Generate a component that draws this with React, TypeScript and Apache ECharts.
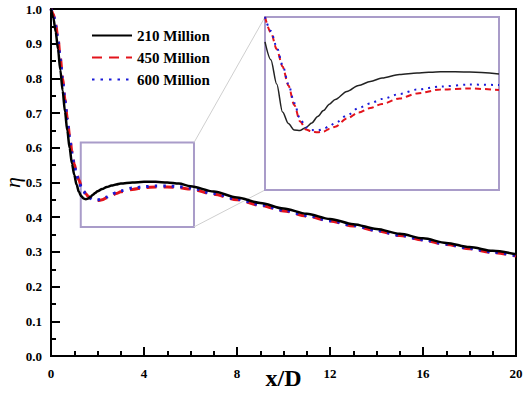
import React, { useEffect, useRef } from "react";
import * as echarts from "echarts";

// ---- main chart data (x/D, eta) ----
const mainX = [0, 0.1, 0.2, 0.3, 0.4, 0.5, 0.6, 0.7, 0.8, 0.9, 1.0, 1.1, 1.2, 1.3, 1.4, 1.5, 1.6, 1.7, 1.8, 1.9, 2.0,
  2.2, 2.4, 2.6, 2.8, 3.0, 3.5, 4.0, 4.5, 5.0, 5.5, 6, 7, 8, 9, 10, 11, 12, 13, 14, 15, 16, 17, 18, 19, 20];
const black210 = [1.0, 0.975, 0.935, 0.885, 0.825, 0.765, 0.705, 0.65, 0.6, 0.555, 0.522, 0.494, 0.473, 0.461, 0.454, 0.452, 0.454, 0.459, 0.465, 0.47, 0.475,
  0.481, 0.487, 0.491, 0.494, 0.497, 0.5, 0.502, 0.502, 0.5, 0.497,
  0.489, 0.474, 0.457, 0.441, 0.425, 0.41, 0.395, 0.38, 0.366, 0.352, 0.339, 0.326, 0.314, 0.303, 0.293];
const red450 = [1.0, 0.985, 0.955, 0.915, 0.86, 0.8, 0.74, 0.685, 0.635, 0.59, 0.553, 0.527, 0.507, 0.49, 0.477, 0.467, 0.46, 0.455, 0.451, 0.449, 0.448,
  0.45, 0.456, 0.462, 0.468, 0.473, 0.48, 0.485, 0.487, 0.487, 0.485,
  0.481, 0.466, 0.45, 0.434, 0.418, 0.403, 0.389, 0.375, 0.361, 0.347, 0.334, 0.321, 0.309, 0.298, 0.288];
const blue600 = [1.0, 0.984, 0.952, 0.91, 0.855, 0.795, 0.735, 0.68, 0.63, 0.585, 0.548, 0.522, 0.503, 0.487, 0.475, 0.466, 0.459, 0.454, 0.451, 0.45, 0.45,
  0.452, 0.458, 0.465, 0.471, 0.476, 0.484, 0.488, 0.49, 0.49, 0.488,
  0.484, 0.468, 0.452, 0.436, 0.42, 0.405, 0.39, 0.376, 0.362, 0.348, 0.335, 0.322, 0.31, 0.299, 0.289];

// ---- inset (zoomed) data ----
const insetX = [1.0, 1.1, 1.2, 1.3, 1.4, 1.5, 1.6, 1.7, 1.8, 1.9, 2.0, 2.1, 2.2, 2.4, 2.6, 2.8, 3.0, 3.3, 3.6, 4.0, 4.5, 5.0];
const insetBlack = [0.517, 0.503, 0.484, 0.462, 0.453, 0.448, 0.4476, 0.45, 0.4535, 0.4585, 0.4632, 0.4682, 0.4719, 0.4782, 0.4829, 0.486, 0.4887, 0.4915, 0.4926, 0.4937, 0.4934, 0.4919];
const insetRed = [0.5365, 0.5244, 0.5114, 0.4977, 0.4829, 0.4676, 0.4547, 0.4484, 0.4468, 0.4462, 0.4468, 0.4488, 0.4506, 0.457, 0.4617, 0.4652, 0.4684, 0.4727, 0.4766, 0.4797, 0.4805, 0.4793];
const insetBlue = [0.5365, 0.5255, 0.513, 0.4989, 0.484, 0.4692, 0.4566, 0.45, 0.448, 0.4476, 0.4488, 0.4511, 0.4535, 0.4594, 0.4652, 0.4688, 0.4723, 0.4762, 0.4797, 0.4821, 0.4836, 0.4832];
const insetYTicks = [0.43, 0.46, 0.49, 0.52];

const seriesNames = ["210 Million", "450 Million", "600 Million"];
// zoom box drawn on main chart (x range, y range)
const zoomBoxX = [1.28, 6.15];
const zoomBoxY = [0.372, 0.615];

const FONT = "Liberation Serif";
const LAV = "#a99cc9";

const pairs = (xs: number[], ys: number[]) => xs.map((x, i) => [x, ys[i]]);

export default function App() {
  const ref = useRef<HTMLDivElement>(null);
  useEffect(() => {
    document.body.style.margin = "0";
    const chart = echarts.init(ref.current!, null, { renderer: "svg" });
    const lineBase = { type: "line" as const, symbol: "none", showSymbol: false, smooth: 0.3, smoothMonotone: "x" as const };
    const option: any = {
      animation: false,
      backgroundColor: "#fff",
      grid: [
        { left: 51, top: 9, width: 465, height: 347, show: true, borderColor: "#000", borderWidth: 2, backgroundColor: "transparent", containLabel: false, outerBoundsMode: "none" },
        { left: 265, top: 17, width: 234, height: 173, show: true, borderColor: LAV, borderWidth: 2, backgroundColor: "#fff", z: 5, containLabel: false, outerBoundsMode: "none" },
      ],
      legend: {
        data: seriesNames,
        orient: "vertical",
        left: 86,
        top: 23,
        itemWidth: 40,
        itemHeight: 14,
        itemGap: 7,
        itemStyle: { opacity: 0 },
        textStyle: { fontFamily: FONT, fontWeight: "bold", fontSize: 15, color: "#000" },
      },
      xAxis: [
        {
          gridIndex: 0, type: "value", min: 0, max: 20, interval: 4,
          name: "x/D", nameLocation: "middle", nameGap: 10, nameMoveOverlap: false,
          nameTextStyle: { fontFamily: FONT, fontWeight: "bold", fontSize: 24, color: "#000" },
          axisLine: { lineStyle: { color: "#000", width: 2 } },
          axisTick: { inside: true, length: 9, lineStyle: { color: "#000", width: 2 } },
          minorTick: { show: true, splitNumber: 4, length: 5, lineStyle: { color: "#000", width: 2 } },
          axisLabel: { fontFamily: FONT, fontWeight: "bold", fontSize: 13, color: "#000", margin: 11 },
          splitLine: { show: false },
        },
        {
          gridIndex: 1, type: "value", min: 1, max: 5, interval: 1,
          axisLine: { show: false },
          axisTick: { inside: true, length: 3, lineStyle: { color: "#8f86a8", width: 1 } },
          axisLabel: { show: false },
          splitLine: { show: false },
        },
      ],
      yAxis: [
        {
          gridIndex: 0, type: "value", min: 0, max: 1, interval: 0.1,
          name: "η", nameLocation: "middle", nameGap: 28, nameMoveOverlap: false,
          nameTextStyle: { fontFamily: FONT, fontStyle: "italic", fontSize: 22, color: "#000" },
          axisLine: { lineStyle: { color: "#000", width: 2 } },
          axisTick: { inside: true, length: 9, lineStyle: { color: "#000", width: 2 } },
          minorTick: { show: true, splitNumber: 2, length: 5, lineStyle: { color: "#000", width: 2 } },
          axisLabel: { fontFamily: FONT, fontWeight: "bold", fontSize: 13, color: "#000", margin: 9, formatter: (v: number) => v.toFixed(1) },
          splitLine: { show: false },
        },
        {
          gridIndex: 1, type: "value", min: 0.401, max: 0.5365,
          axisLine: { show: false },
          axisTick: { inside: true, length: 3, customValues: insetYTicks, lineStyle: { color: "#8f86a8", width: 1 } },
          axisLabel: { show: false, customValues: insetYTicks },
          splitLine: { show: false },
        },
      ],
      series: [
        {
          ...lineBase, name: seriesNames[0], xAxisIndex: 0, yAxisIndex: 0, z: 4,
          data: pairs(mainX, black210),
          lineStyle: { color: "#000", width: 2.5 }, itemStyle: { color: "#000" },
          markArea: {
            silent: true,
            itemStyle: { color: "rgba(0,0,0,0)", borderColor: LAV, borderWidth: 2 },
            data: [[{ coord: [zoomBoxX[0], zoomBoxY[1]] }, { coord: [zoomBoxX[1], zoomBoxY[0]] }]],
          },
        },
        {
          ...lineBase, name: seriesNames[1], xAxisIndex: 0, yAxisIndex: 0, z: 3,
          data: pairs(mainX, red450),
          lineStyle: { color: "#e3141c", width: 3, type: [10, 7] }, itemStyle: { color: "#e3141c" },
        },
        {
          ...lineBase, name: seriesNames[2], xAxisIndex: 0, yAxisIndex: 0, z: 3,
          data: pairs(mainX, blue600),
          lineStyle: { color: "#1a1ad8", width: 3, type: [2.5, 6] }, itemStyle: { color: "#1a1ad8" },
        },
        {
          ...lineBase, name: "inset-210", xAxisIndex: 1, yAxisIndex: 1, z: 6,
          data: pairs(insetX, insetBlack),
          lineStyle: { color: "#222", width: 1.5 },
        },
        {
          ...lineBase, name: "inset-450", xAxisIndex: 1, yAxisIndex: 1, z: 6,
          data: pairs(insetX, insetRed),
          lineStyle: { color: "#e3141c", width: 2, type: [6, 4] },
        },
        {
          ...lineBase, name: "inset-600", xAxisIndex: 1, yAxisIndex: 1, z: 6,
          data: pairs(insetX, insetBlue),
          lineStyle: { color: "#1a1ad8", width: 2, type: [2, 5] },
        },
      ],
    };
    chart.setOption(option);
    // connector lines from zoom box corners to inset corners
    const pTop = chart.convertToPixel({ gridIndex: 0 } as any, [zoomBoxX[1], zoomBoxY[1]]) as number[];
    const pBot = chart.convertToPixel({ gridIndex: 0 } as any, [zoomBoxX[1], zoomBoxY[0]]) as number[];
    const iTop = chart.convertToPixel({ gridIndex: 1 } as any, [1, 0.5365]) as number[];
    const iBot = chart.convertToPixel({ gridIndex: 1 } as any, [1, 0.401]) as number[];
    chart.setOption({
      graphic: [
        { type: "line", z: 1, shape: { x1: pTop[0], y1: pTop[1], x2: iTop[0], y2: iTop[1] }, style: { stroke: "#cfcfcf", lineWidth: 1 } },
        { type: "line", z: 1, shape: { x1: pBot[0], y1: pBot[1], x2: iBot[0], y2: iBot[1] }, style: { stroke: "#cfcfcf", lineWidth: 1 } },
      ],
    });
    return () => chart.dispose();
  }, []);
  return <div ref={ref} style={{ width: 526, height: 397 }} />;
}
